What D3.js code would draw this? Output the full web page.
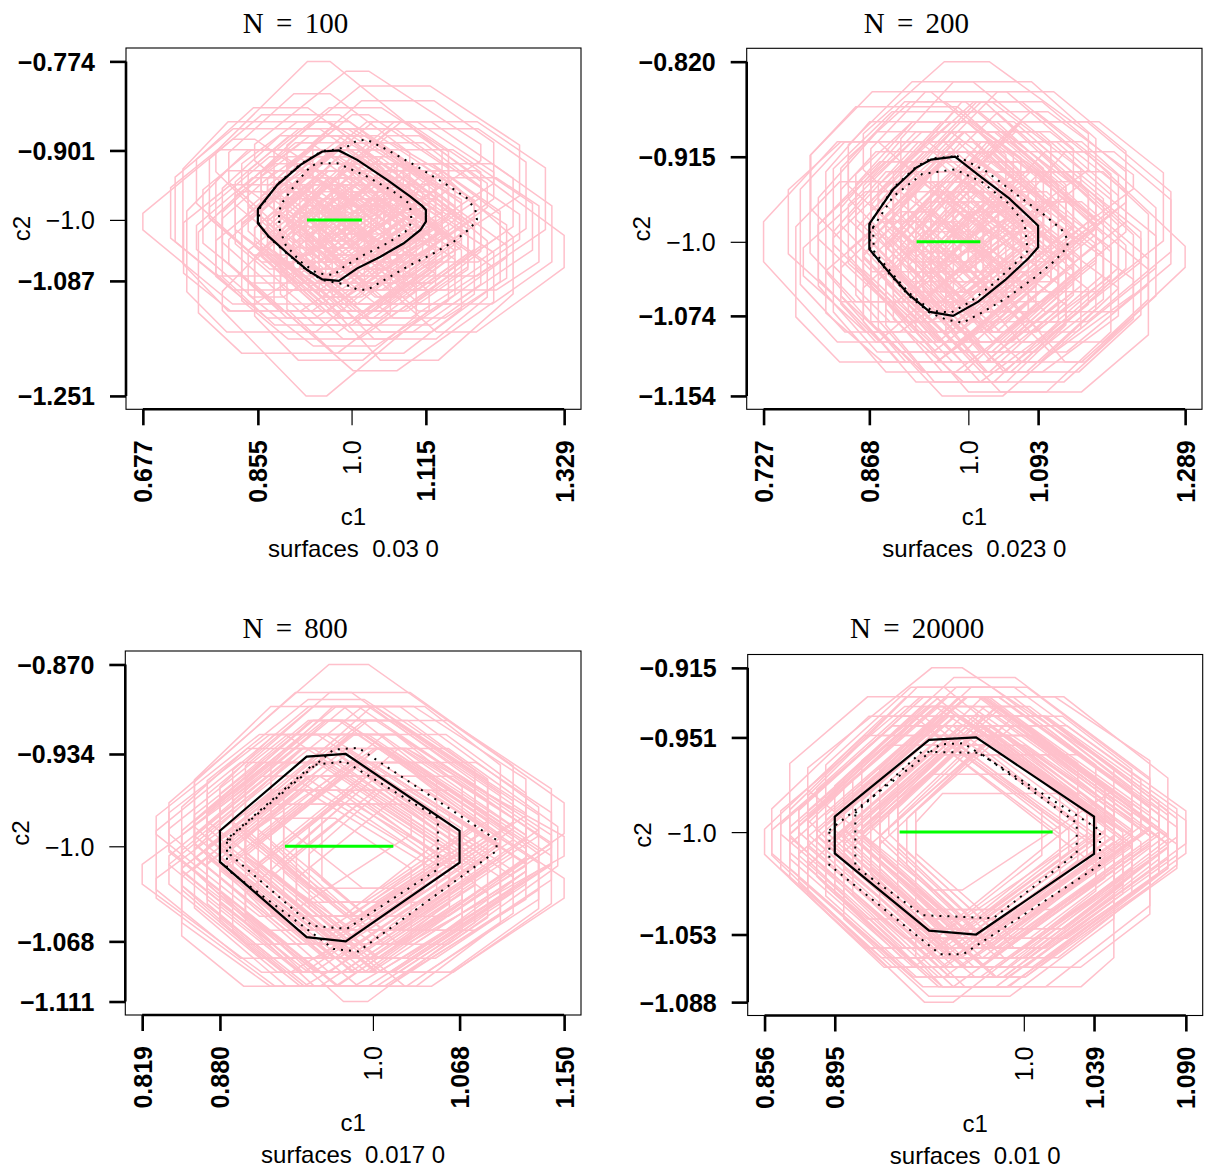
<!DOCTYPE html>
<html>
<head>
<meta charset="utf-8">
<script src="https://cdn.jsdelivr.net/npm/d3@7"></script>
<style>
  body { margin: 0; background: #fff; }
  svg { display: block; }
  text { font-family: "Liberation Sans", Arial, Helvetica, sans-serif; white-space: pre; }
</style>
</head>
<body>
<svg id="chart" width="1205" height="1171"></svg>
<script>
'use strict';

// ---- data ----
var titles = ['N = 100', 'N = 200', 'N = 800', 'N = 20000'];
var surfaceLabels = ['surfaces  0.03 0', 'surfaces  0.023 0', 'surfaces  0.017 0', 'surfaces  0.01 0'];
var centerTick = 1.0;
var centerTickY = -1.0;

var xTicks100 = [0.677, 0.855, 1.115, 1.329];
var yTicks100 = [-0.774, -0.901, -1.087, -1.251];
var xTicks200 = [0.727, 0.868, 1.093, 1.289];
var yTicks200 = [-0.820, -0.915, -1.074, -1.154];
var xTicks800 = [0.819, 0.880, 1.068, 1.150];
var yTicks800 = [-0.870, -0.934, -1.068, -1.111];
var xTicks20000 = [0.856, 0.895, 1.039, 1.090];
var yTicks20000 = [-0.915, -0.951, -1.053, -1.088];

// identified set of c1 (green segment at c2 = -1)
var greenSegment = [[0.931, -1.0], [1.016, -1.0]];

// pink regions: [c1 min, c1 max, c2 min, c2 max, corner cut]
var pink100 = [
  [0.677, 1.02, -1.12, -0.885, 0.45], [0.79, 1.14, -1.06, -0.774, 0.45], [0.85, 1.20, -1.02, -0.788, 0.45],
  [0.90, 1.26, -1.05, -0.809, 0.35], [1.02, 1.329, -1.16, -0.93, 0.4], [0.80, 1.12, -1.251, -0.98, 0.45],
  [0.88, 1.22, -1.215, -0.97, 0.4], [0.95, 1.25, -1.20, -0.93, 0.35], [0.727, 1.06, -1.10, -0.87, 0.3],
  [0.739, 1.05, -1.13, -0.86, 0.25], [0.745, 1.02, -1.16, -0.93, 0.25], [0.763, 1.06, -1.19, -0.96, 0.25],
  [0.78, 1.08, -1.06, -0.85, 0.3], [0.82, 1.13, -1.10, -0.88, 0.3], [0.86, 1.16, -1.13, -0.90, 0.35],
  [0.84, 1.12, -1.08, -0.86, 0.4], [0.88, 1.20, -1.12, -0.87, 0.3], [0.92, 1.25, -1.09, -0.86, 0.35],
  [0.80, 1.10, -1.15, -0.92, 0.3], [0.83, 1.15, -1.17, -0.95, 0.25], [0.87, 1.18, -1.14, -0.91, 0.4],
  [0.91, 1.23, -1.16, -0.92, 0.3], [0.96, 1.28, -1.12, -0.90, 0.35], [0.98, 1.30, -1.08, -0.86, 0.3],
  [0.76, 1.04, -1.05, -0.84, 0.35], [0.72, 0.99, -1.08, -0.90, 0.3], [0.81, 1.09, -1.03, -0.82, 0.4],
  [0.94, 1.22, -1.03, -0.83, 0.3], [1.00, 1.27, -1.06, -0.87, 0.25], [1.03, 1.31, -1.12, -0.92, 0.3],
  [0.85, 1.10, -1.20, -0.99, 0.3], [0.90, 1.17, -1.19, -0.98, 0.3], [0.79, 1.07, -1.12, -0.90, 0.2],
  [0.86, 1.14, -1.06, -0.89, 0.25], [0.89, 1.19, -1.15, -0.93, 0.2], [0.93, 1.20, -1.10, -0.89, 0.3],
  [0.83, 1.09, -1.14, -0.94, 0.3], [0.77, 1.05, -1.09, -0.90, 0.3], [0.90, 1.15, -1.05, -0.87, 0.3],
  [0.95, 1.24, -1.14, -0.95, 0.3], [0.82, 1.08, -1.07, -0.91, 0.35], [0.87, 1.13, -1.11, -0.93, 0.4],
  [0.92, 1.18, -1.13, -0.95, 0.35], [0.86, 1.17, -1.09, -0.92, 0.3], [0.80, 1.13, -1.13, -0.88, 0.3],
  [0.97, 1.21, -1.17, -0.97, 0.3], [1.05, 1.29, -1.10, -0.94, 0.25], [0.74, 1.01, -1.13, -0.95, 0.3],
  [0.88, 1.15, -1.02, -0.84, 0.35], [0.84, 1.16, -1.18, -0.97, 0.35],
  [0.84, 1.06, -1.08, -0.92, 0.4], [0.88, 1.10, -1.06, -0.90, 0.45], [0.91, 1.14, -1.09, -0.93, 0.4],
  [0.86, 1.09, -1.12, -0.95, 0.4], [0.93, 1.17, -1.07, -0.90, 0.45], [0.95, 1.19, -1.11, -0.94, 0.4],
  [0.82, 1.05, -1.05, -0.89, 0.45], [0.89, 1.12, -1.14, -0.97, 0.4], [0.97, 1.21, -1.05, -0.88, 0.4],
  [0.87, 1.13, -1.03, -0.87, 0.45], [0.80, 1.03, -1.10, -0.93, 0.4], [0.92, 1.16, -1.15, -0.98, 0.45],
  [0.99, 1.23, -1.09, -0.92, 0.4], [0.85, 1.08, -1.16, -0.99, 0.4], [0.90, 1.15, -1.02, -0.85, 0.45],
  [0.94, 1.18, -1.13, -0.96, 0.35], [0.83, 1.07, -1.01, -0.86, 0.4], [0.96, 1.20, -1.16, -0.99, 0.4],
  [1.01, 1.24, -1.13, -0.96, 0.45], [0.78, 1.01, -1.07, -0.91, 0.45], [0.88, 1.11, -1.10, -0.94, 0.35],
  [0.91, 1.13, -1.04, -0.89, 0.4], [0.86, 1.10, -1.07, -0.91, 0.35], [0.93, 1.15, -1.12, -0.96, 0.4],
  [0.81, 1.04, -1.13, -0.96, 0.4], [0.98, 1.22, -1.02, -0.86, 0.45], [0.89, 1.13, -1.17, -1.00, 0.45],
  [0.84, 1.09, -1.04, -0.87, 0.35], [0.95, 1.17, -1.08, -0.92, 0.35], [0.87, 1.12, -1.09, -0.92, 0.45],
  [0.92, 1.17, -1.10, -0.92, 0.45], [1.00, 1.26, -1.10, -0.92, 0.4], [0.79, 1.04, -1.14, -0.97, 0.35],
  [0.90, 1.14, -1.13, -0.95, 0.4], [0.94, 1.20, -1.04, -0.86, 0.4], [0.83, 1.06, -1.09, -0.94, 0.45],
  [0.96, 1.22, -1.14, -0.97, 0.45], [0.85, 1.11, -1.11, -0.93, 0.45], [0.89, 1.16, -1.06, -0.88, 0.4],
  [0.76, 1.00, -1.11, -0.94, 0.4],
  [0.90, 1.08, -1.06, -0.93, 0.4], [0.93, 1.11, -1.04, -0.91, 0.45], [0.88, 1.05, -1.08, -0.95, 0.4],
  [0.95, 1.14, -1.07, -0.94, 0.4], [0.91, 1.10, -1.10, -0.96, 0.45], [0.87, 1.06, -1.03, -0.90, 0.4],
  [0.97, 1.15, -1.03, -0.91, 0.4], [0.92, 1.09, -1.02, -0.89, 0.45], [0.89, 1.07, -1.11, -0.98, 0.4],
  [0.94, 1.12, -1.09, -0.97, 0.35], [0.86, 1.04, -1.06, -0.93, 0.45], [0.99, 1.17, -1.08, -0.95, 0.4],
  [0.90, 1.11, -1.05, -0.90, 0.4], [0.93, 1.13, -1.12, -0.97, 0.4], [0.88, 1.09, -1.09, -0.94, 0.45],
  [0.96, 1.16, -1.11, -0.96, 0.45], [0.91, 1.06, -1.07, -0.95, 0.35], [0.94, 1.10, -1.05, -0.93, 0.35],
  [0.85, 1.03, -1.09, -0.96, 0.4], [1.00, 1.19, -1.05, -0.92, 0.4], [0.92, 1.12, -1.08, -0.92, 0.45],
  [0.89, 1.10, -1.04, -0.90, 0.45], [0.95, 1.15, -1.10, -0.95, 0.45], [0.87, 1.08, -1.12, -0.97, 0.45],
  [0.93, 1.07, -1.06, -0.94, 0.3], [0.90, 1.04, -1.04, -0.93, 0.3], [0.96, 1.12, -1.08, -0.96, 0.3],
  [0.91, 1.13, -1.14, -0.98, 0.4], [0.98, 1.14, -1.06, -0.93, 0.35], [0.86, 1.07, -1.01, -0.88, 0.4]
];
var pink200 = [
  [0.727, 1.00, -1.10, -0.90, 0.4], [0.86, 1.16, -1.00, -0.820, 0.4], [1.02, 1.289, -1.12, -0.91, 0.45],
  [0.88, 1.15, -1.154, -0.96, 0.35], [0.93, 1.19, -1.15, -0.95, 0.3], [0.776, 1.04, -1.09, -0.90, 0.25],
  [0.789, 1.06, -1.06, -0.865, 0.25], [0.80, 1.09, -1.11, -0.89, 0.3], [0.83, 1.10, -1.05, -0.86, 0.35],
  [0.85, 1.13, -1.09, -0.88, 0.3], [0.88, 1.16, -1.07, -0.87, 0.4], [0.90, 1.19, -1.10, -0.89, 0.3],
  [0.92, 1.21, -1.06, -0.86, 0.35], [0.95, 1.25, -1.12, -0.90, 0.3], [0.98, 1.27, -1.08, -0.88, 0.35],
  [0.82, 1.08, -1.13, -0.93, 0.3], [0.86, 1.12, -1.14, -0.94, 0.3], [0.89, 1.17, -1.13, -0.92, 0.3],
  [0.94, 1.22, -1.14, -0.93, 0.3], [0.79, 1.05, -1.03, -0.85, 0.35], [0.81, 1.07, -1.08, -0.88, 0.25],
  [0.84, 1.11, -1.02, -0.84, 0.35], [0.87, 1.14, -1.04, -0.85, 0.3], [0.91, 1.17, -1.03, -0.84, 0.3],
  [0.96, 1.21, -1.02, -0.85, 0.35], [1.00, 1.26, -1.05, -0.88, 0.3], [1.02, 1.24, -1.10, -0.93, 0.25],
  [0.98, 1.23, -1.13, -0.94, 0.3], [0.77, 1.03, -1.12, -0.94, 0.25], [0.83, 1.09, -1.10, -0.91, 0.2],
  [0.87, 1.13, -1.12, -0.92, 0.2], [0.91, 1.18, -1.09, -0.90, 0.3], [0.86, 1.12, -1.07, -0.89, 0.3],
  [0.84, 1.10, -1.09, -0.90, 0.4], [0.88, 1.15, -1.11, -0.91, 0.4], [0.93, 1.20, -1.12, -0.91, 0.35],
  [0.90, 1.14, -1.05, -0.88, 0.3], [0.80, 1.06, -1.10, -0.92, 0.35], [0.95, 1.20, -1.08, -0.90, 0.3],
  [0.85, 1.14, -1.13, -0.91, 0.35], [0.97, 1.24, -1.15, -0.96, 0.3], [0.92, 1.19, -1.04, -0.86, 0.4],
  [0.82, 1.11, -1.06, -0.87, 0.3], [0.89, 1.13, -1.14, -0.95, 0.3], [1.04, 1.27, -1.07, -0.91, 0.3],
  [0.76, 1.02, -1.06, -0.90, 0.3], [0.87, 1.17, -1.09, -0.86, 0.45], [0.90, 1.21, -1.13, -0.90, 0.45],
  [0.94, 1.18, -1.11, -0.93, 0.35], [0.83, 1.12, -1.12, -0.90, 0.3],
  [0.86, 1.07, -1.07, -0.93, 0.4], [0.89, 1.11, -1.05, -0.91, 0.45], [0.92, 1.14, -1.08, -0.94, 0.4],
  [0.87, 1.09, -1.10, -0.96, 0.4], [0.94, 1.17, -1.06, -0.91, 0.45], [0.96, 1.19, -1.09, -0.95, 0.4],
  [0.84, 1.05, -1.04, -0.90, 0.45], [0.90, 1.12, -1.12, -0.97, 0.4], [0.98, 1.21, -1.04, -0.89, 0.4],
  [0.88, 1.12, -1.02, -0.88, 0.45], [0.82, 1.03, -1.08, -0.94, 0.4], [0.93, 1.16, -1.13, -0.98, 0.45],
  [1.00, 1.23, -1.08, -0.93, 0.4], [0.86, 1.08, -1.13, -0.99, 0.4], [0.91, 1.15, -1.01, -0.86, 0.45],
  [0.95, 1.18, -1.11, -0.96, 0.35], [0.84, 1.07, -1.00, -0.86, 0.4], [0.97, 1.20, -1.13, -0.99, 0.4],
  [1.02, 1.24, -1.11, -0.96, 0.45], [0.80, 1.02, -1.06, -0.92, 0.45], [0.89, 1.11, -1.09, -0.95, 0.35],
  [0.92, 1.13, -1.03, -0.89, 0.4], [0.87, 1.10, -1.06, -0.92, 0.35], [0.94, 1.15, -1.10, -0.96, 0.4],
  [0.83, 1.05, -1.11, -0.97, 0.4], [0.99, 1.22, -1.01, -0.87, 0.45], [0.90, 1.13, -1.14, -1.00, 0.45],
  [0.85, 1.09, -1.03, -0.88, 0.35], [0.96, 1.17, -1.07, -0.93, 0.35], [0.88, 1.12, -1.08, -0.93, 0.45],
  [0.93, 1.17, -1.09, -0.93, 0.45], [1.01, 1.25, -1.09, -0.93, 0.4], [0.81, 1.05, -1.12, -0.98, 0.35],
  [0.91, 1.14, -1.11, -0.96, 0.4], [0.95, 1.20, -1.03, -0.87, 0.4], [0.84, 1.06, -1.08, -0.95, 0.45],
  [0.97, 1.22, -1.12, -0.97, 0.45], [0.86, 1.11, -1.10, -0.94, 0.45], [0.90, 1.16, -1.05, -0.89, 0.4],
  [0.78, 1.01, -1.09, -0.95, 0.4],
  [0.91, 1.07, -1.05, -0.94, 0.4], [0.93, 1.10, -1.03, -0.92, 0.45], [0.89, 1.05, -1.07, -0.96, 0.4],
  [0.95, 1.12, -1.06, -0.95, 0.4], [0.92, 1.09, -1.09, -0.97, 0.45], [0.88, 1.05, -1.02, -0.91, 0.4],
  [0.97, 1.14, -1.03, -0.92, 0.4], [0.93, 1.08, -1.01, -0.90, 0.45], [0.90, 1.06, -1.10, -0.98, 0.4],
  [0.95, 1.11, -1.08, -0.97, 0.35], [0.87, 1.03, -1.05, -0.94, 0.45], [0.99, 1.15, -1.07, -0.96, 0.4],
  [0.91, 1.10, -1.04, -0.91, 0.4], [0.94, 1.12, -1.10, -0.97, 0.4], [0.89, 1.08, -1.08, -0.95, 0.45],
  [0.96, 1.14, -1.10, -0.97, 0.45], [0.92, 1.06, -1.06, -0.96, 0.35], [0.95, 1.09, -1.04, -0.94, 0.35],
  [0.86, 1.02, -1.08, -0.97, 0.4], [1.00, 1.17, -1.05, -0.93, 0.4], [0.93, 1.11, -1.07, -0.93, 0.45],
  [0.90, 1.09, -1.03, -0.91, 0.45], [0.96, 1.14, -1.09, -0.96, 0.45], [0.88, 1.07, -1.11, -0.98, 0.45],
  [0.94, 1.07, -1.05, -0.95, 0.3], [0.91, 1.04, -1.03, -0.94, 0.3], [0.97, 1.11, -1.07, -0.97, 0.3],
  [0.92, 1.12, -1.12, -0.99, 0.4], [0.98, 1.13, -1.05, -0.94, 0.35], [0.87, 1.06, -1.01, -0.89, 0.4]
];
var pink800 = [
  [0.819, 1.05, -1.09, -0.95, 0.45], [0.84, 1.150, -1.09, -0.870, 0.45], [0.90, 1.150, -1.07, -0.93, 0.45],
  [0.90, 1.09, -1.111, -0.97, 0.45], [0.86, 1.06, -1.10, -0.96, 0.4], [0.85, 1.05, -1.08, -0.94, 0.35],
  [0.87, 1.08, -1.06, -0.92, 0.4], [0.88, 1.10, -1.09, -0.95, 0.35], [0.90, 1.12, -1.07, -0.93, 0.4],
  [0.92, 1.13, -1.08, -0.94, 0.35], [0.89, 1.11, -1.05, -0.90, 0.45], [0.87, 1.09, -1.04, -0.895, 0.4],
  [0.91, 1.13, -1.06, -0.90, 0.45], [0.93, 1.14, -1.05, -0.91, 0.35], [0.86, 1.07, -1.09, -0.93, 0.45],
  [0.84, 1.06, -1.06, -0.92, 0.4], [0.83, 1.04, -1.08, -0.94, 0.35], [0.85, 1.07, -1.10, -0.97, 0.35],
  [0.88, 1.09, -1.10, -0.96, 0.35], [0.91, 1.12, -1.09, -0.96, 0.4], [0.94, 1.14, -1.09, -0.95, 0.35],
  [0.95, 1.145, -1.07, -0.93, 0.4], [0.89, 1.08, -1.03, -0.90, 0.35], [0.86, 1.05, -1.05, -0.90, 0.35],
  [0.92, 1.10, -1.04, -0.90, 0.3], [0.83, 1.03, -1.05, -0.92, 0.45], [0.87, 1.06, -1.08, -0.95, 0.3],
  [0.90, 1.10, -1.10, -0.95, 0.3], [0.93, 1.12, -1.06, -0.92, 0.3], [0.88, 1.07, -1.07, -0.92, 0.25],
  [0.90, 1.09, -1.05, -0.91, 0.3], [0.85, 1.04, -1.07, -0.93, 0.3], [0.95, 1.13, -1.09, -0.96, 0.35],
  [0.89, 1.12, -1.08, -0.92, 0.45], [0.86, 1.09, -1.07, -0.91, 0.45], [0.92, 1.11, -1.10, -0.97, 0.4],
  [0.84, 1.05, -1.09, -0.95, 0.45], [0.88, 1.10, -1.06, -0.91, 0.35], [0.91, 1.14, -1.08, -0.93, 0.45],
  [0.87, 1.11, -1.09, -0.94, 0.4], [0.83, 1.06, -1.10, -0.96, 0.45], [0.94, 1.15, -1.10, -0.96, 0.45],
  [0.86, 1.08, -1.05, -0.89, 0.4], [0.90, 1.11, -1.04, -0.89, 0.35], [0.85, 1.03, -1.10, -0.98, 0.3],
  [0.96, 1.14, -1.06, -0.94, 0.3], [0.89, 1.07, -1.09, -0.97, 0.25], [0.87, 1.12, -1.07, -0.90, 0.45],
  [0.92, 1.12, -1.03, -0.90, 0.4], [0.88, 1.08, -1.10, -0.97, 0.35],
  [0.86, 1.07, -1.07, -0.93, 0.45], [0.88, 1.09, -1.08, -0.94, 0.45], [0.90, 1.11, -1.07, -0.93, 0.45],
  [0.87, 1.08, -1.09, -0.95, 0.45], [0.89, 1.10, -1.06, -0.92, 0.45], [0.91, 1.12, -1.09, -0.95, 0.45],
  [0.85, 1.06, -1.08, -0.94, 0.45], [0.92, 1.13, -1.08, -0.94, 0.45], [0.86, 1.09, -1.06, -0.91, 0.45],
  [0.88, 1.11, -1.10, -0.95, 0.45], [0.90, 1.13, -1.06, -0.91, 0.45], [0.84, 1.07, -1.07, -0.92, 0.45],
  [0.87, 1.10, -1.08, -0.93, 0.48], [0.89, 1.12, -1.09, -0.94, 0.48], [0.91, 1.14, -1.07, -0.92, 0.48],
  [0.85, 1.08, -1.10, -0.95, 0.48], [0.88, 1.08, -1.05, -0.92, 0.4], [0.90, 1.10, -1.10, -0.97, 0.4],
  [0.86, 1.06, -1.06, -0.93, 0.4], [0.92, 1.12, -1.07, -0.94, 0.4], [0.87, 1.07, -1.09, -0.96, 0.4],
  [0.89, 1.09, -1.04, -0.91, 0.4], [0.93, 1.13, -1.09, -0.96, 0.4], [0.85, 1.05, -1.07, -0.94, 0.4],
  [0.88, 1.12, -1.09, -0.92, 0.48], [0.86, 1.10, -1.08, -0.91, 0.48], [0.90, 1.14, -1.09, -0.93, 0.48],
  [0.84, 1.08, -1.09, -0.93, 0.48], [0.91, 1.11, -1.05, -0.92, 0.42], [0.87, 1.09, -1.05, -0.90, 0.42]
];
var pink20000 = [
  [0.856, 1.02, -1.07, -0.94, 0.45], [0.88, 1.05, -1.03, -0.915, 0.45], [0.93, 1.090, -1.06, -0.94, 0.45],
  [0.88, 1.04, -1.088, -0.96, 0.45], [0.94, 1.05, -1.080, -0.98, 0.15], [0.87, 1.03, -1.06, -0.93, 0.45],
  [0.88, 1.05, -1.07, -0.94, 0.4], [0.89, 1.06, -1.06, -0.935, 0.45], [0.90, 1.07, -1.065, -0.94, 0.4],
  [0.91, 1.08, -1.07, -0.945, 0.45], [0.92, 1.085, -1.06, -0.94, 0.4], [0.87, 1.04, -1.075, -0.95, 0.45],
  [0.89, 1.07, -1.08, -0.95, 0.4], [0.90, 1.08, -1.075, -0.95, 0.45], [0.91, 1.06, -1.05, -0.93, 0.4],
  [0.88, 1.03, -1.05, -0.925, 0.45], [0.86, 1.01, -1.06, -0.94, 0.4], [0.89, 1.04, -1.04, -0.925, 0.35],
  [0.93, 1.08, -1.05, -0.93, 0.35], [0.92, 1.07, -1.08, -0.96, 0.35], [0.89, 1.05, -1.075, -0.955, 0.35],
  [0.87, 1.02, -1.07, -0.955, 0.4], [0.90, 1.06, -1.055, -0.93, 0.45], [0.895, 1.075, -1.06, -0.93, 0.45],
  [0.88, 1.06, -1.065, -0.935, 0.45], [0.915, 1.085, -1.075, -0.95, 0.45], [0.875, 1.045, -1.08, -0.955, 0.45],
  [0.905, 1.065, -1.045, -0.925, 0.4], [0.885, 1.035, -1.065, -0.945, 0.35], [0.935, 1.085, -1.065, -0.945, 0.4],
  [0.90, 1.05, -1.07, -0.955, 0.3], [0.91, 1.07, -1.04, -0.93, 0.3], [0.87, 1.03, -1.045, -0.93, 0.3],
  [0.93, 1.07, -1.07, -0.96, 0.25], [0.88, 1.02, -1.06, -0.95, 0.25], [0.92, 1.06, -1.05, -0.94, 0.25],
  [0.865, 1.035, -1.055, -0.935, 0.45], [0.925, 1.08, -1.055, -0.935, 0.45], [0.895, 1.055, -1.08, -0.96, 0.4],
  [0.90, 1.07, -1.05, -0.92, 0.4], [0.885, 1.05, -1.055, -0.93, 0.4], [0.91, 1.075, -1.065, -0.94, 0.35],
  [0.86, 1.025, -1.065, -0.945, 0.45], [0.94, 1.09, -1.055, -0.945, 0.4], [0.895, 1.045, -1.06, -0.94, 0.45],
  [0.905, 1.055, -1.075, -0.955, 0.4], [0.915, 1.07, -1.045, -0.925, 0.4], [0.875, 1.04, -1.07, -0.945, 0.35],
  [0.92, 1.08, -1.075, -0.95, 0.45], [0.90, 1.05, -1.085, -0.97, 0.35],
  [0.89, 1.05, -1.06, -0.94, 0.45], [0.90, 1.06, -1.065, -0.945, 0.45], [0.88, 1.04, -1.055, -0.935, 0.45],
  [0.91, 1.07, -1.06, -0.94, 0.45], [0.895, 1.065, -1.07, -0.945, 0.48], [0.885, 1.055, -1.065, -0.94, 0.48],
  [0.905, 1.075, -1.06, -0.935, 0.48], [0.875, 1.045, -1.06, -0.935, 0.48], [0.90, 1.05, -1.05, -0.935, 0.42],
  [0.91, 1.06, -1.07, -0.95, 0.42], [0.88, 1.03, -1.065, -0.945, 0.42], [0.92, 1.07, -1.065, -0.945, 0.42],
  [0.89, 1.06, -1.075, -0.95, 0.45], [0.90, 1.07, -1.055, -0.93, 0.45], [0.87, 1.04, -1.07, -0.945, 0.45],
  [0.92, 1.08, -1.06, -0.935, 0.45], [0.885, 1.045, -1.05, -0.93, 0.4], [0.895, 1.055, -1.075, -0.955, 0.4],
  [0.915, 1.075, -1.07, -0.95, 0.4], [0.875, 1.035, -1.06, -0.94, 0.4], [0.90, 1.08, -1.07, -0.94, 0.48],
  [0.88, 1.06, -1.07, -0.94, 0.48], [0.91, 1.085, -1.065, -0.935, 0.48], [0.87, 1.05, -1.065, -0.935, 0.48],
  [0.93, 1.075, -1.06, -0.945, 0.4], [0.865, 1.02, -1.065, -0.95, 0.4], [0.895, 1.045, -1.045, -0.93, 0.4],
  [0.905, 1.06, -1.08, -0.96, 0.4], [0.885, 1.065, -1.06, -0.93, 0.45], [0.91, 1.05, -1.055, -0.945, 0.35]
];

// black region (solid) and the two dotted regions, vertices as [c1, c2]
var solid100 = [[0.855,-0.9848],[0.8851,-0.9501],[0.9211,-0.9215],[0.9417,-0.9097],[0.9547,-0.9025],[0.9803,-0.901],
  [1.0087,-0.9144],[1.0551,-0.943],[1.0911,-0.9668],[1.1092,-0.9801],[1.115,-0.9858],[1.115,-1.0025],[1.1065,-1.0144],
  [1.0807,-1.0333],[1.0447,-1.0525],[1.0087,-1.0691],[0.9803,-1.087],[0.9547,-1.0848],[0.9315,-1.0715],[0.9006,-1.0476],
  [0.8721,-1.0239],[0.855,-1.0048]];
var outer100 = [[0.9933,-0.8954],[1.0087,-0.8868],[1.0242,-0.8858],[1.0551,-0.9001],[1.1014,-0.924],[1.1478,-0.9501],
  [1.1787,-0.9691],[1.1915,-0.9858],[1.1941,-1.0001],[1.1838,-1.0119],[1.158,-1.0311],[1.1271,-1.0476],[1.0859,-1.0668],
  [1.0551,-1.0833],[1.0242,-1.1],[1.0087,-1.0991],[0.99,-1.092],[0.9547,-1.0858],[0.9315,-1.0725],[0.9006,-1.0486],
  [0.8721,-1.0249],[0.857,-1.0058],[0.857,-0.9848],[0.8851,-0.9491],[0.9211,-0.9205],[0.9547,-0.9015],[0.975,-0.9]];
var inner100 = [[0.8876,-0.9962],[0.8902,-0.9787],[0.916,-0.9454],[0.9366,-0.924],[0.9469,-0.9191],[0.9778,-0.9191],
  [1.0242,-0.9382],[1.0651,-0.9597],[1.0885,-0.9762],[1.0922,-0.9882],[1.0922,-1.0048],[1.0833,-1.0168],[1.0551,-1.0334],
  [1.019,-1.05],[0.988,-1.0668],[0.9726,-1.0786],[0.9469,-1.0762],[0.9211,-1.0596],[0.898,-1.0358],[0.8891,-1.0144]];

var solid200 = [[0.868,-0.982],[0.8997,-0.9475],[0.9307,-0.9258],[0.9503,-0.9178],[0.9822,-0.915],[1.0132,-0.933],
  [1.0544,-0.9566],[1.0802,-0.9747],[1.093,-0.9838],[1.093,-1.0055],[1.0802,-1.0164],[1.0492,-1.0381],[1.0132,-1.0598],
  [0.9796,-1.074],[0.9487,-1.07],[0.9204,-1.0526],[0.8946,-1.0309],[0.868,-1.0073]];
var outer200 = [[0.9848,-0.9142],[1.0235,-0.9294],[1.0647,-0.953],[1.1008,-0.9729],[1.124,-0.9874],[1.1328,-0.9983],
  [1.1317,-1.0055],[1.1163,-1.0182],[1.0905,-1.0345],[1.0544,-1.0544],[1.0183,-1.0707],[0.9925,-1.0809],[0.9719,-1.078],
  [0.9487,-1.071],[0.9204,-1.0536],[0.8946,-1.0319],[0.869,-1.0083],[0.869,-0.981],[0.8997,-0.9465],[0.9307,-0.9248],
  [0.9503,-0.9168]];
var inner200 = [[0.8729,-0.9856],[0.8997,-0.9548],[0.9384,-0.9323],[0.9822,-0.9276],[1.0183,-0.9403],[1.0544,-0.962],
  [1.075,-0.982],[1.0791,-1.0091],[1.0647,-1.02],[1.0338,-1.0417],[1.0028,-1.0598],[0.9771,-1.0707],[0.9513,-1.0689],
  [0.9204,-1.0508],[0.8894,-1.0236],[0.874,-1.0091]];

var solid800 = [[0.88,-0.9889],[0.948,-0.9359],[0.9787,-0.934],[1.068,-0.9889],[1.068,-1.0117],[0.9787,-1.068],
  [0.948,-1.065],[0.88,-1.0112]];
var outer800 = [[0.8855,-0.9955],[0.9691,-0.9309],[0.9886,-0.9296],[1.097,-0.9955],[1.097,-1.0033],[0.9886,-1.0752],
  [0.9691,-1.0734],[0.8855,-1.0164]];
var inner800 = [[0.888,-0.9929],[0.9525,-0.9419],[0.978,-0.9393],[1.051,-0.9798],[1.051,-1.0164],[0.9796,-1.059],
  [0.9525,-1.0569],[0.888,-1.0059]];

var solid20000 = [[0.895,-0.992],[0.9474,-0.9523],[0.9735,-0.951],[1.039,-0.992],[1.039,-1.0113],[0.9735,-1.053],
  [0.9474,-1.051],[0.895,-1.011]];
var outer20000 = [[0.892,-0.999],[0.9535,-0.9546],[0.9664,-0.954],[1.0423,-0.999],[1.0423,-1.017],[0.9664,-1.0632],
  [0.9535,-1.0632],[0.892,-1.017]];
var inner20000 = [[0.9064,-0.9901],[0.9433,-0.9584],[0.9757,-0.959],[1.0294,-0.9953],[1.0294,-1.0108],[0.983,-1.0446],
  [0.944,-1.043],[0.9064,-1.0179]];

// ---- layout (pixels) ----
var boxes = [
  {left: 126, right: 581, top: 48, bottom: 409.3},
  {left: 746.7, right: 1202, top: 48.3, bottom: 409.3},
  {left: 125.3, right: 581, top: 651, bottom: 1015},
  {left: 747.7, right: 1202.7, top: 654.5, bottom: 1015.5}
];
var titleBaselines = [33, 33, 638, 638];

var panels = [
  {xTicks: xTicks100, yTicks: yTicks100, pink: pink100, solid: solid100, dotted: [outer100, inner100]},
  {xTicks: xTicks200, yTicks: yTicks200, pink: pink200, solid: solid200, dotted: [outer200, inner200]},
  {xTicks: xTicks800, yTicks: yTicks800, pink: pink800, solid: solid800, dotted: [outer800, inner800]},
  {xTicks: xTicks20000, yTicks: yTicks20000, pink: pink20000, solid: solid20000, dotted: [outer20000, inner20000]}
];

var TICK = 16, PAD = 15, AXIS_W = 2.6;
var sansFont = '"Liberation Sans", Arial, Helvetica, sans-serif';

// R style: 4% extension of the data range on both sides
function padRange(ext){
  var d = (ext[1] - ext[0]) * 0.04;
  return [ext[0] - d, ext[1] + d];
}

// octagon outline of a region from its bounding box and corner cut
function octagon(r){
  var x0 = r[0], x1 = r[1], y0 = r[2], y1 = r[3], c = r[4];
  var w = x1 - x0, h = y1 - y0, a = 0.9 * c, b = 1 - 1.1 * c;
  return [[x0, y1 - c * h], [x0 + a * w, y1], [x0 + b * w, y1], [x1, y1 - c * h],
          [x1, y0 + c * h], [x0 + b * w, y0], [x0 + a * w, y0], [x0, y0 + c * h]];
}

function styleAxis(g, width, weight){
  g.attr('font-size', null).attr('font-family', null);
  g.selectAll('.tick line').attr('stroke', '#000').attr('stroke-width', width);
  g.selectAll('.tick text')
    .attr('fill', '#000')
    .style('font-family', sansFont)
    .style('font-size', '25px')
    .style('font-weight', weight);
}

function drawPanel(svg, p, i){
  var box = boxes[i];
  var x = d3.scaleLinear().domain(padRange(d3.extent(p.xTicks))).range([box.left, box.right]);
  var y = d3.scaleLinear().domain(padRange(d3.extent(p.yTicks))).range([box.bottom, box.top]);
  var path = d3.line().x(function(d){ return x(d[0]); }).y(function(d){ return y(d[1]); });
  var ring = d3.line().x(function(d){ return x(d[0]); }).y(function(d){ return y(d[1]); })
      .curve(d3.curveLinearClosed);
  var g = svg.append('g').attr('class', 'panel');

  g.append('g').selectAll('path')
    .data(p.pink)
    .join('path')
    .attr('d', function(d){ return ring(octagon(d)); })
    .attr('fill', 'none')
    .attr('stroke', '#FFC0CB')
    .attr('stroke-width', 1.5);

  g.append('path')
    .attr('d', ring(p.solid))
    .attr('fill', 'none')
    .attr('stroke', '#000')
    .attr('stroke-width', 2.2);

  g.append('g').selectAll('path')
    .data(p.dotted)
    .join('path')
    .attr('d', ring)
    .attr('fill', 'none')
    .attr('stroke', '#000')
    .attr('stroke-width', 2)
    .attr('stroke-dasharray', '2,6');

  g.append('path')
    .attr('d', path(greenSegment))
    .attr('stroke', '#00FF00')
    .attr('stroke-width', 3);

  // plot box
  g.append('rect')
    .attr('x', box.left).attr('y', box.top)
    .attr('width', box.right - box.left).attr('height', box.bottom - box.top)
    .attr('fill', 'none').attr('stroke', '#000').attr('stroke-width', 1.1);

  // x axis: quantile ticks (bold) + the 1.0 tick (thin)
  var xExt = d3.extent(p.xTicks);
  var xa = g.append('g')
    .attr('transform', 'translate(0,' + box.bottom + ')')
    .call(d3.axisBottom(x).tickValues(p.xTicks).tickSize(TICK).tickSizeOuter(0)
      .tickFormat(d3.format('.3f')));
  xa.select('.domain').attr('d', 'M' + x(xExt[0]) + ',0H' + x(xExt[1]))
    .attr('stroke', '#000').attr('stroke-width', AXIS_W);
  styleAxis(xa, AXIS_W, 'bold');
  var xc = g.append('g')
    .attr('transform', 'translate(0,' + box.bottom + ')')
    .call(d3.axisBottom(x).tickValues([centerTick]).tickSize(TICK).tickFormat(d3.format('.1f')));
  xc.select('.domain').remove();
  styleAxis(xc, 1.2, 'normal');
  [xa, xc].forEach(function(ax){
    ax.selectAll('.tick text')
      .attr('transform', 'rotate(-90)')
      .attr('x', -(TICK + PAD))
      .attr('y', 0)
      .attr('dy', '0.36em')
      .attr('text-anchor', 'end');
  });

  // y axis
  var yExt = d3.extent(p.yTicks);
  var ya = g.append('g')
    .attr('transform', 'translate(' + box.left + ',0)')
    .call(d3.axisLeft(y).tickValues(p.yTicks).tickSize(TICK).tickSizeOuter(0).tickPadding(PAD)
      .tickFormat(d3.format('.3f')));
  ya.select('.domain').attr('d', 'M0,' + y(yExt[1]) + 'V' + y(yExt[0]))
    .attr('stroke', '#000').attr('stroke-width', AXIS_W);
  styleAxis(ya, AXIS_W, 'bold');
  var yc = g.append('g')
    .attr('transform', 'translate(' + box.left + ',0)')
    .call(d3.axisLeft(y).tickValues([centerTickY]).tickSize(TICK).tickPadding(PAD).tickFormat(d3.format('.1f')));
  yc.select('.domain').remove();
  styleAxis(yc, 1.2, 'normal');
  [ya, yc].forEach(function(ax){ ax.selectAll('.tick text').attr('dy', '0.36em'); });

  // labels
  var cx = (box.left + box.right) / 2, cy = (box.top + box.bottom) / 2;
  g.append('text')
    .attr('x', cx - 58).attr('y', titleBaselines[i])
    .attr('text-anchor', 'middle')
    .style('font-family', '"Liberation Serif", "Times New Roman", serif')
    .style('font-size', '29px')
    .style('word-spacing', '5px')
    .text(titles[i]);
  g.append('text')
    .attr('x', cx).attr('y', box.bottom + 116)
    .attr('text-anchor', 'middle')
    .style('font-size', '24px')
    .text('c1');
  g.append('text')
    .attr('x', cx).attr('y', box.bottom + 148)
    .attr('text-anchor', 'middle')
    .style('font-size', '24px')
    .text(surfaceLabels[i]);
  g.append('text')
    .attr('transform', 'translate(' + (box.left - 104) + ',' + cy + ') rotate(-90)')
    .attr('text-anchor', 'middle')
    .attr('dy', '0.32em')
    .style('font-size', '24px')
    .text('c2');
}

var svg = d3.select('#chart');
panels.forEach(function(p, i){ drawPanel(svg, p, i); });
</script>
</body>
</html>
